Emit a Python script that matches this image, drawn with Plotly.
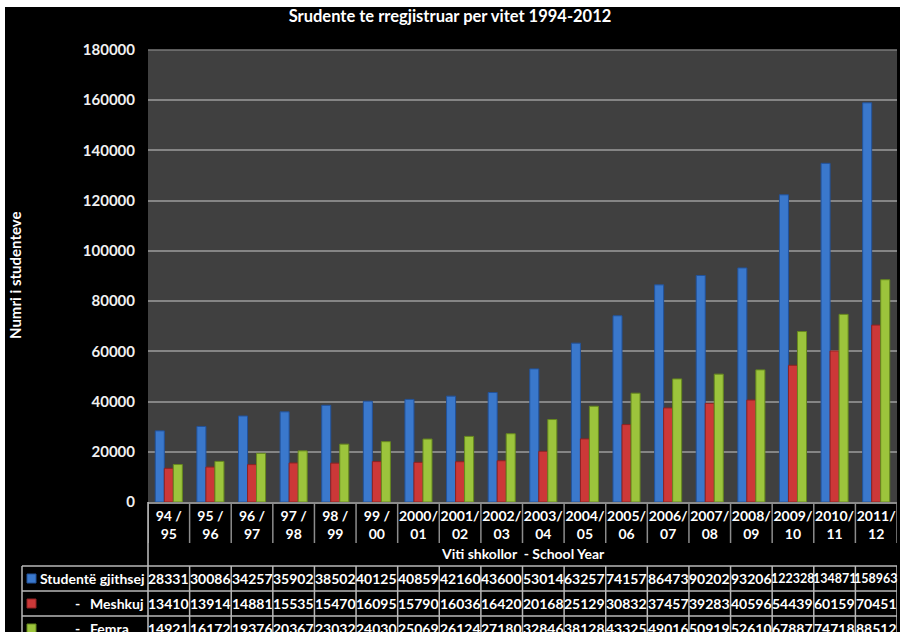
import plotly.graph_objects as go

years = ["94 /<br>95", "95 /<br>96", "96 /<br>97", "97 /<br>98", "98 /<br>99", "99 /<br>00",
         "2000/<br>01", "2001/<br>02", "2002/<br>03", "2003/<br>04", "2004/<br>05", "2005/<br>06",
         "2006/<br>07", "2007/<br>08", "2008/<br>09", "2009/<br>10", "2010/<br>11", "2011/<br>12"]
total = [28331, 30086, 34257, 35902, 38502, 40125, 40859, 42160, 43600, 53014, 63257, 74157,
         86473, 90202, 93206, 122328, 134871, 158963]
male = [13410, 13914, 14881, 15535, 15470, 16095, 15790, 16036, 16420, 20168, 25129, 30832,
        37457, 39283, 40596, 54439, 60159, 70451]
female = [14921, 16172, 19376, 20367, 23032, 24030, 25069, 26124, 27180, 32846, 38128, 43325,
          49016, 50919, 52610, 67887, 74718, 88512]

series_names = ["Studentë gjithsej", "-  Meshkuj", "-  Femra"]
colors = ["#3a78cc", "#cc3838", "#9cc43c"]
line_colors = ["#22529a", "#8e2222", "#66881e"]

W, H = 900, 632
L, R, T, B = 148, 3, 50, 130
PW, PH = W - L - R, H - T - B
FONT = "Lato, 'Open Sans', sans-serif"


def py(p):
    return (H - B - p) / PH


def px(p):
    return (p - L) / PW


fig = go.Figure()
idx = list(range(len(years)))
for name, vals, c, lc in zip(series_names, [total, male, female], colors, line_colors):
    fig.add_trace(go.Bar(x=idx, y=vals, name=name, marker=dict(color=c, line=dict(color=lc, width=1)),
                         hoverinfo="y"))

shapes = []
# white frame strips
shapes.append(dict(type="rect", xref="paper", yref="paper", x0=px(0), x1=px(W), y0=py(0), y1=py(7),
                   fillcolor="white", line=dict(width=0), layer="below"))
shapes.append(dict(type="rect", xref="paper", yref="paper", x0=px(0), x1=px(5), y0=py(0), y1=py(H),
                   fillcolor="white", line=dict(width=0), layer="below"))
# top border of plot area
shapes.append(dict(type="line", xref="paper", yref="paper", x0=0, x1=1, y0=1, y1=1,
                   line=dict(color="#7a7a7a", width=1.5)))
# category separators in label area
for i in range(len(years) + 1):
    shapes.append(dict(type="line", xref="x", yref="paper", x0=i - 0.5, x1=i - 0.5,
                       y0=0, y1=py(543), line=dict(color="#8c8c8c", width=1.5)))
# left vertical line full
shapes.append(dict(type="line", xref="paper", yref="paper", x0=0, x1=0, y0=0, y1=py(H + 5),
                   line=dict(color="#c0c0c0", width=1.5)))
# table verticals
for i in range(1, len(years) + 1):
    shapes.append(dict(type="line", xref="x", yref="paper", x0=i - 0.5, x1=i - 0.5,
                       y0=py(566), y1=py(H + 5), line=dict(color="#b8b8b8", width=1.5)))
shapes.append(dict(type="line", xref="paper", yref="paper", x0=px(22), x1=px(22),
                   y0=py(566), y1=py(H + 5), line=dict(color="#b8b8b8", width=1.5)))
# table horizontals
for yy in [566, 591, 616]:
    shapes.append(dict(type="line", xref="paper", yref="paper", x0=px(22), x1=1,
                       y0=py(yy), y1=py(yy), line=dict(color="#b8b8b8", width=1.5)))

row_centers = [578.5, 603.5, 628.5]
annotations = []
# legend markers + labels
for r, (name, c, lc) in enumerate(zip(series_names, colors, line_colors)):
    yc = row_centers[r]
    shapes.append(dict(type="rect", xref="paper", yref="paper", x0=px(27), x1=px(36),
                       y0=py(yc - 4.5), y1=py(yc + 4.5), fillcolor=c, line=dict(color=lc, width=1)))
    if r == 0:
        annotations.append(dict(x=px(38), y=py(yc), xref="paper", yref="paper", text=name,
                                showarrow=False, xanchor="left", yanchor="middle",
                                font=dict(size=14, color="white", family=FONT, weight="bold")))
    else:
        dash, word = name.split("  ")
        annotations.append(dict(x=px(77), y=py(yc), xref="paper", yref="paper", text=dash,
                                showarrow=False, xanchor="center", yanchor="middle",
                                font=dict(size=14, color="white", family=FONT, weight="bold")))
        annotations.append(dict(x=px(88), y=py(yc), xref="paper", yref="paper", text=word,
                                showarrow=False, xanchor="left", yanchor="middle",
                                font=dict(size=14, color="white", family=FONT, weight="bold")))

# table values
for r, vals in enumerate([total, male, female]):
    for i, v in enumerate(vals):
        s = str(v)
        annotations.append(dict(x=i, y=py(row_centers[r]), xref="x", yref="paper", text=s,
                                showarrow=False, xanchor="center", yanchor="middle",
                                font=dict(size=14 if len(s) <= 5 else 12.5, color="white",
                                          family=FONT, weight="bold")))

# axis titles
annotations.append(dict(x=0.5, y=py(553), xref="paper", yref="paper",
                        text="Viti shkollor  - School Year", showarrow=False,
                        xanchor="center", yanchor="middle",
                        font=dict(size=14, color="white", family=FONT, weight="bold")))
annotations.append(dict(x=px(15), y=py(276), xref="paper", yref="paper",
                        text="Numri i studenteve", showarrow=False, textangle=-90,
                        xanchor="center", yanchor="middle",
                        font=dict(size=15, color="white", family=FONT, weight="bold")))

fig.update_layout(
    width=W, height=H,
    margin=dict(l=L, r=R, t=T, b=B, pad=0),
    paper_bgcolor="black", plot_bgcolor="#404040",
    barmode="group", bargap=0.35, bargroupgap=0,
    showlegend=False,
    font=dict(family=FONT, color="white", size=14, weight="bold"),
    title=dict(text="Srudente te rregjistruar per vitet 1994-2012", x=0.5, xref="container",
               y=1 - 16 / H, yref="container", xanchor="center", yanchor="middle",
               font=dict(size=16.5, color="white", family=FONT, weight="bold")),
    xaxis=dict(tickmode="array", tickvals=idx, ticktext=years, range=[-0.5, len(years) - 0.5],
               showgrid=False, showline=True, linecolor="#8c8c8c", linewidth=1.5,
               ticks="", tickfont=dict(size=14, color="white", family=FONT, weight="bold"),
               ticklabelstandoff=0),
    yaxis=dict(range=[0, 180000], dtick=20000, tickformat="d", showgrid=True, gridcolor="#858585",
               gridwidth=1.5, zeroline=False, showline=False, ticks="",
               tickfont=dict(size=15, color="#f0f0f0", family=FONT, weight="bold"),
               ticklabelstandoff=12),
    shapes=shapes, annotations=annotations,
)

fig.write_html("out.html", config={"displayModeBar": False},
               post_script="document.body.style.margin='0';document.body.style.overflow='hidden';")
